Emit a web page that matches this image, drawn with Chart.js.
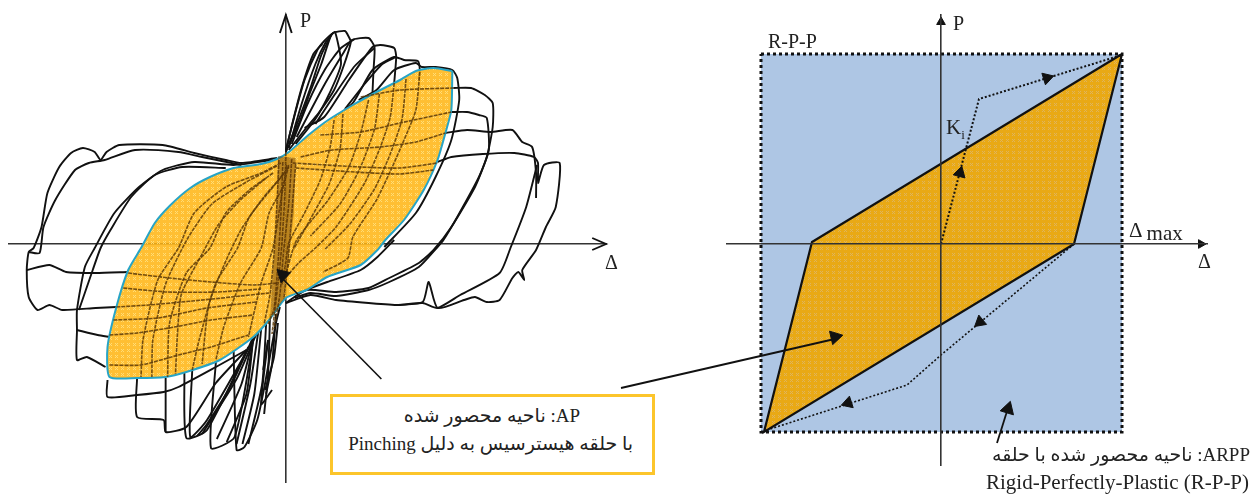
<!doctype html>
<html lang="en">

<head>
  <meta charset="utf-8">
  <title>AP / ARPP hysteresis areas</title>
  <script src="https://cdn.jsdelivr.net/npm/chart.js"></script>
  <style>
    body { margin: 0; background: #fff; width: 1254px; height: 495px; overflow: hidden; position: relative; }
    canvas { position: absolute; top: 0; }
    #leftChart { left: 0; }
    #rightChart { left: 615px; }
    .lbl { position: absolute; font-family: "Liberation Serif", "DejaVu Sans", serif; color: #222; white-space: nowrap; line-height: 1; font-size: 20px; }
    .fa { direction: rtl; font-size: 19px; }
    #box { position: absolute; left: 330px; top: 394px; width: 319px; height: 75px; border: 3px solid #fcc52b; background: #fff; }
  </style>
</head>

<body>
  <canvas id="leftChart" width="615" height="495"></canvas>
  <canvas id="rightChart" width="639" height="495"></canvas>

  <div id="box"></div>
  <div class="lbl" style="left:300px;top:10px">P</div>
  <div class="lbl" style="left:605px;top:252px">Δ</div>
  <div class="lbl" style="left:953px;top:13px">P</div>
  <div class="lbl" style="left:768px;top:31px">R-P-P</div>
  <div class="lbl" style="left:946px;top:117px;font-size:21px">K<sub style="font-size:13px">i</sub></div>
  <div class="lbl" style="left:1129px;top:220px;font-size:21px">Δ<span style="position:relative;top:3px"> max</span></div>
  <div class="lbl" style="left:1198px;top:251px">Δ</div>
  <div class="lbl fa" style="right:674px;top:406px">AP: ناحیه محصور شده</div>
  <div class="lbl fa" style="right:621px;top:434px">با حلقه هیسترسیس به دلیل Pinching</div>
  <div class="lbl fa" style="right:4px;top:445px">ARPP: ناحیه محصور شده با حلقه</div>
  <div class="lbl" style="left:986px;top:472px;font-size:21px">Rigid-Perfectly-Plastic (R-P-P)</div>

  <script>
    // left panel, measured hysteresis: [delta, P]
    const apOutline = [[169,173],[150,176],[132,173],[116,164],[92,152],[68,139],[43,124],[23,109],[3,92],[-9,85],[-25,80],[-53,76],[-77,67],[-97,56],[-117,39],[-133,21],[-147,-4],[-160,-26],[-172,-63],[-181,-103],[-179,-133],[-151,-134],[-122,-133],[-101,-128],[-67,-116],[-33,-93],[-17,-76],[0,-54],[21,-46],[42,-33],[76,-21],[93,-6],[101,4],[120,24],[140,54],[154,84],[162,111],[168,134],[169,173]];

    const fanTop = [
      [[0,94],[9,129],[19,164],[32,194],[39,203],[48,211],[60,213],[64,207],[66,202],[59,179],[49,154],[34,132],[19,114],[3,94]],
      [[3,100],[11,119],[26,159],[36,189],[46,209]],
      [[11,107],[39,159],[59,192],[67,204],[84,206],[90,197],[89,174],[88,152]],
      [[19,116],[39,127],[64,164],[88,197],[96,199],[110,196],[112,187],[110,161]],
      [[49,126],[68,141],[88,174],[110,187],[120,184],[134,183],[136,174],[135,164]],
      [[74,144],[92,154],[110,174],[132,181],[138,177],[152,177],[169,174],[174,166],[176,144],[168,104],[152,67],[132,31],[100,-3]],
      [[0,92],[6,118],[16,156],[28,190],[37,200]],
      [[0,92],[14,122],[24,150],[36,180],[46,209],[50,212],[56,180],[44,150],[30,125],[10,100]],
      [[3,96],[16,140],[30,180],[40,201],[48,211]],
      [[6,100],[22,140],[40,175],[56,196],[70,205]],
      [[30,120],[50,150],[70,178],[90,196]],
      [[60,135],[80,160],[98,180],[112,187]]
    ];
    const loopsRight = [
      [[170,156],[188,156],[202,149],[210,141],[210,117],[204,87],[192,57],[168,17],[150,-6],[135,-19],[105,-34],[84,-44],[51,-48],[21,-46],[0,-59]],
      [[168,132],[184,132],[196,129],[204,126],[206,94],[196,67],[174,27],[160,4],[154,-3],[135,-23],[105,-38],[84,-46],[51,-52],[25,-49],[9,-54]],
      [[162,111],[184,114],[208,112],[230,114],[240,102],[250,97],[254,71],[254,46]],
      [[255,79],[244,37],[228,-4],[217,-29],[177,-51],[154,-64],[139,-59],[114,-61],[84,-59],[51,-56],[25,-51],[0,-59]],
      [[154,82],[168,87],[200,90],[232,91],[252,87],[256,81],[256,61],[262,79],[278,81],[274,37],[264,17],[254,-6],[240,-26],[242,-36],[236,-28],[230,-34],[217,-56],[204,-58],[192,-53],[181,-56],[154,-64],[145,-38],[139,-58],[114,-61]],
      [[110,4],[93,-13],[76,-26],[42,-38],[14,-48]]
    ];
    const loopsLeft = [
      [[-9,86],[-45,81],[-61,84],[-93,91],[-125,99],[-169,99],[-182,92],[-188,84],[-194,92],[-206,96],[-218,91],[-230,77],[-242,51],[-248,17],[-256,-4],[-261,-8],[-263,-26],[-261,-53],[-252,-66],[-240,-61],[-227,-66],[-193,-64],[-172,-63]],
      [[-45,79],[-85,87],[-109,92],[-153,94],[-184,84],[-200,81],[-214,74],[-234,44],[-246,17],[-250,-9],[-261,-8]],
      [[-263,-26],[-240,-21],[-223,-28],[-193,-29],[-160,-28]],
      [[-13,84],[-53,79],[-93,82],[-125,74],[-149,57],[-174,31],[-194,-4],[-204,-23],[-212,-66],[-212,-86],[-212,-116],[-202,-113],[-183,-123]],
      [[-61,76],[-105,77],[-133,69],[-157,47],[-178,14],[-188,-4],[-196,-26],[-210,-66]],
      [[-212,-86],[-191,-91],[-179,-93]]
    ];
    const fanBottom = [
      [[-181,-136],[-181,-153],[-151,-151],[-124,-148],[-109,-143],[-71,-123],[-40,-106]],
      [[-151,-134],[-151,-173],[-124,-176],[-122,-188],[-101,-183],[-71,-139],[-40,-106]],
      [[-122,-134],[-122,-188]],
      [[-103,-129],[-101,-194],[-80,-186],[-38,-103]],
      [[-95,-126],[-97,-193],[-80,-176],[-36,-101]],
      [[-71,-118],[-76,-204],[-52,-193],[-33,-96]],
      [[-53,-106],[-50,-206],[-42,-203],[-29,-176],[-21,-139],[-10,-79],[-6,-63]],
      [[-33,-93],[-55,-140],[-80,-180],[-90,-192]],
      [[-33,-93],[-45,-140],[-70,-195]],
      [[-33,-93],[-40,-150],[-60,-198]],
      [[-21,-146],[-12,-113],[-8,-79]],
      [[-23,-126],[-18,-96]],
      [[-14,-146],[-25,-160],[-18,-96]],
      [[-30,-90],[-50,-135],[-85,-190]],
      [[-28,-88],[-36,-140],[-50,-200]],
      [[-25,-85],[-32,-150],[-44,-200]],
      [[-20,-80],[-24,-140],[-38,-200]],
      [[-16,-70],[-18,-130],[-22,-170]],
      [[-10,-70],[-14,-120],[-20,-150]]
    ];
    // curves seen through the shaded area
    const innerCurves = [
      [[-5,81],[-25,71],[-61,57],[-93,31],[-109,-4],[-130,-36],[-145,-96],[-147,-133]],
      [[-13,71],[-37,54],[-61,31],[-77,-4],[-101,-29],[-118,-79],[-120,-133]],
      [[3,77],[-13,57],[-37,27],[-49,-4],[-71,-39],[-88,-96],[-95,-126]],
      [[3,79],[-3,57],[-17,31],[-25,-4],[-46,-39],[-63,-83],[-71,-116]],
      [[1,79],[-5,44],[-13,-4],[-25,-39],[-38,-93]],
      [[-9,78],[-40,62],[-75,40],[-100,5],[-122,-40],[-135,-96],[-136,-133]],
      [[-20,66],[-45,45],[-68,20],[-85,-10],[-106,-50],[-110,-90],[-112,-130]],
      [[-2,70],[-24,45],[-45,15],[-60,-15],[-78,-60],[-85,-120]],
      [[49,124],[45,97],[35,64],[19,31],[3,1],[0,-18],[-4,-41]],
      [[84,144],[76,111],[64,77],[43,44],[11,4],[0,-30]],
      [[110,161],[106,127],[96,97],[80,61],[51,17],[31,-3],[13,-19],[0,-33]],
      [[136,172],[132,134],[120,104],[108,77],[92,44],[68,7],[63,-14],[38,-28]],
      [[58,130],[55,95],[44,60],[25,25],[8,-5]],
      [[95,150],[90,115],[75,75],[55,40],[25,8]],
      [[122,165],[118,125],[106,90],[90,55],[65,20],[40,-5]],
      [[7,81],[76,77],[116,76],[154,81]],
      [[10,76],[70,72],[115,70],[150,74]],
      [[15,87],[47,94],[96,97],[132,102],[162,111]],
      [[35,109],[76,112],[116,121],[168,132]],
      [[76,147],[116,154],[170,156]],
      [[-160,-29],[-118,-34],[-76,-38],[-33,-41],[-8,-39]],
      [[-165,-44],[-120,-48],[-70,-48],[-25,-45]],
      [[-172,-63],[-139,-61],[-95,-57],[-55,-53],[-17,-49]],
      [[-175,-76],[-130,-74],[-80,-64],[-30,-58]],
      [[-179,-91],[-151,-89],[-113,-83],[-76,-76],[-33,-71]],
      [[-179,-121],[-147,-121],[-109,-111],[-76,-103],[-38,-91]]
    ];
    const pinchBand = [
      [[0,92],[-1,50],[-4,0],[-8,-40],[-14,-90]],
      [[6,85],[3,40],[-2,-5],[-6,-50],[-12,-85]],
      [[-3,82],[-5,30],[-8,-20],[-12,-65],[-18,-80]],
      [[10,80],[6,30],[2,-20],[-2,-55]],
      [[-7,84],[-9,40],[-12,-10],[-16,-50],[-22,-80]]
    ];
    const pinchPatch = [[-8,88],[10,86],[8,30],[2,-20],[-2,-55],[-16,-75],[-14,-40],[-10,10],[-8,88]];
    const pointerLeft = [[97,-135],[-5,-33]];
    const pointerLeftHead = [[-3,-31]];
    const axisHeadLeftX = [[311,6],[325,0],[311,-6]];
    const axisHeadLeftY = [[-6,211],[0,229],[6,211]];

    // right panel, idealised model
    const rppBox = [[-180,190],[181,190],[181,-188],[-180,-188],[-180,190]];
    const arppShape = [[181,190],[-129,2],[-177,-188],[133,0],[181,190]];
    const pathUp = [[0,0],[38,145],[181,189]];
    const pathDown = [[133,0],[0,-111],[-34,-141],[-177,-187]];
    const pathArrows = [[19,71],[106,166],[39,-78],[-93,-159]];
    const pathArrowAngles = [15,73,230,252];
    const pointerAP = [[-320,-144],[-102,-94]];
    const pointerARPP = [[56,-199],[68,-161]];
    const pointerTips = [[-106,-93],[67,-165]];
    const pointerTipAngles = [77,17];
    const axisTips = [[0,222],[260,0]];
    const axisTipAngles = [0,90];
    const bigArrow = [[-303,6],[-251,6],[-251,12],[-229,-1],[-251,-14],[-251,-9],[-303,-9],[-303,6]];

    const pts = a => a.map(([x, y]) => ({ x, y }));

    function makePattern(base, mark) {
      const c = document.createElement('canvas');
      c.width = c.height = 6;
      const g = c.getContext('2d');
      g.fillStyle = base;
      g.fillRect(0, 0, 6, 6);
      g.fillStyle = mark;
      [[1,1],[3,1],[2,2],[1,3],[3,3]].forEach(([x, y]) => g.fillRect(x, y, 1, 1));
      return g.createPattern(c, 'repeat');
    }

    const line = (a, o = {}) => Object.assign({
      data: pts(a), showLine: true, pointRadius: 0, fill: false, clip: false,
      borderColor: '#111', borderWidth: 1.9, tension: 0.2
    }, o);

    const marks = (a, angles, o = {}) => Object.assign({
      data: pts(a), showLine: false, pointStyle: 'triangle', pointRadius: 8,
      pointRotation: angles, backgroundColor: '#111', borderColor: '#111', clip: false
    }, o);

    // both panels: real axes crossing at the origin, no ticks
    function baseOptions(xr, yr, padding, axisZ) {
      const axis = (min, max, pos) => ({
        type: 'linear', min, max, position: pos,
        grid: { display: false, drawTicks: false },
        ticks: { display: false },
        border: { display: true, color: '#333', width: 1.6, z: axisZ }
      });
      return {
        responsive: false,
        animation: false,
        events: [],
        layout: { padding },
        plugins: { legend: { display: false }, tooltip: { enabled: false } },
        scales: { x: axis(xr[0], xr[1], { y: 0 }), y: axis(yr[0], yr[1], { x: 0 }) }
      };
    }

    const blackSets = [...fanTop, ...loopsRight, ...loopsLeft, ...fanBottom].map(a => line(a, { order: 5 }));
    const brownSets = [...innerCurves, ...pinchBand].map(a => line(a, {
      order: 2, borderColor: 'rgba(92,58,8,.85)', borderWidth: 1.6, borderDash: [4, 1]
    }));

    new Chart(document.getElementById('leftChart'), {
      type: 'scatter',
      data: {
        datasets: [
          ...blackSets,
          line(apOutline, {
            order: 3, fill: 'shape', borderColor: '#27a4c6', borderWidth: 2,
            backgroundColor: makePattern('rgba(255,180,18,.86)', 'rgba(255,226,130,.86)')
          }),
          line(pinchPatch, {
            order: 2, fill: 'shape', tension: 0, borderWidth: 0, borderColor: 'rgba(0,0,0,0)',
            backgroundColor: makePattern('rgba(90,50,5,.42)', 'rgba(200,130,20,.2)')
          }),
          ...brownSets,
          line(pointerLeft, { order: 1, tension: 0, borderWidth: 1.6 }),
          marks(pointerLeftHead, [313], { order: 1 }),
          line(axisHeadLeftX, { order: 1, tension: 0 }),
          line(axisHeadLeftY, { order: 1, tension: 0 })
        ]
      },
      options: baseOptions([-281, 325], [-238, 229], { left: 5, right: 4, top: 15, bottom: 13 }, -1)
    });

    new Chart(document.getElementById('rightChart'), {
      type: 'scatter',
      data: {
        datasets: [
          line(bigArrow, { order: 9, fill: 'shape', tension: 0, borderWidth: 0, backgroundColor: '#7a1212', borderColor: '#7a1212' }),
          line(rppBox, { order: 8, fill: 'shape', tension: 0, borderWidth: 3, borderDash: [3, 3], backgroundColor: '#aec6e4' }),
          line(arppShape, {
            order: 7, fill: 'shape', tension: 0, borderWidth: 2.2,
            backgroundColor: makePattern('#e9a915', '#dfb45c')
          }),
          line(pathUp, { order: 3, tension: 0, borderWidth: 2, borderDash: [2, 2] }),
          line(pathDown, { order: 3, tension: 0, borderWidth: 1.6, borderDash: [2, 2] }),
          marks(pathArrows, pathArrowAngles, { order: 2, pointRadius: 7 }),
          line(pointerAP, { order: 2, tension: 0, borderWidth: 1.8 }),
          line(pointerARPP, { order: 2, tension: 0, borderWidth: 1.8 }),
          marks(pointerTips, pointerTipAngles, { order: 1 }),
          marks(axisTips, axisTipAngles, { order: 1, pointRadius: 5 })
        ]
      },
      options: baseOptions([-214, 266], [-221, 229], { left: 112, right: 47, top: 15, bottom: 30 }, 1)
    });
  </script>
</body>

</html>
